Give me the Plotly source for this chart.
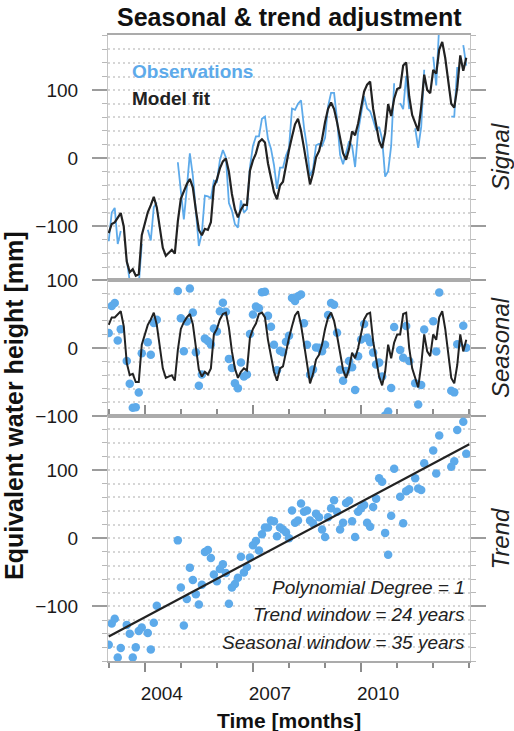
import numpy as np
import plotly.graph_objects as go

# Monthly time axis, January 2003 onwards
months = np.arange(120)
years = 2003 + months / 12.0

# Seasonal component fitted by the model (mm)
seasonal_fit = [
    34, 45, 45, 49, 54, 32, -22, -40, -38, -50, -50, 5,
    20, 34, 42, 52, 34, 0, -30, -44, -42, -40, -48, -3,
    28, 38, 45, 50, 35, 0, -32, -42, -35, -39, -30, 20,
    28, 42, 50, 52, 30, -5, -30, -44, -35, -30, -33, 15,
    28, 36, 50, 52, 45, 12, -12, -35, -48, -30, -27, -5,
    15, 32, 48, 54, 34, 6, -25, -52, -38, -17, -10, 5,
    28, 45, 52, 40, 18, -8, -32, -44, -30, -7, -15, 0,
    22, 42, 50, 52, 10, -17, -42, -55, -35, 5, -15, 8,
    20, 20, 50, 52, 0, -30, -44, -58, -25, 20, -5, -12,
    20, 12, 45, 54, 28, -10, -44, -52, -25, 20, -5, 12,
]

# Deseasonalised observations (mm); None marks months without data
deseasonalized = [
    -156, -125, -118, -175, -161, None, -127, -140, -175, -160, -136, -131,
    None, -139, -163, -124, -99, None, None, None, None, None, None, -3,
    -72, -128, -89, -43, -61, -82, -97, -68, -20, -17, -29, -53,
    -63, -45, -38, -51, -96, -72, -67, -58, -27, -50, -42, -28,
    -10, -4, -18, 6, 16, 16, 26, 25, 3, 16, 13, 9,
    0, 41, 23, 26, 51, 39, 41, 26, 22, 36, 31, 13,
    2, 31, 44, 56, 39, 13, 23, 52, 55, 25, 2, 39,
    44, 49, 23, 17, 46, 58, 88, 83, 8, -24, 33, 102,
    None, 61, 22, 69, 72, None, 88, 73, 71, 110, None, None,
    129, 95, 151, None, None, None, 105, 113, 159, None, 171, 124,
]

# Linear trend (polynomial degree 1), value at the start and end of the record
trend_years = [2003.0, 2013.0]
trend_values = [-144.0, 138.0]

trend_at = np.interp(years, trend_years, trend_values)
seas = np.array(seasonal_fit, dtype=float)
des = np.array([np.nan if v is None else v for v in deseasonalized], dtype=float)
observations = des + seas
model_fit = trend_at + seas
detrended = observations - trend_at


def nan_to_none(a):
    return [None if np.isnan(v) else float(v) for v in a]


BLUE = "#5daaea"
BLACK = "#222222"
FONT = "Liberation Sans, Arial, Helvetica, sans-serif"
GRID = "#d6d6d6"
TICK = "#9c9c9c"

fig = go.Figure()

# Signal panel
fig.add_trace(go.Scatter(x=years, y=nan_to_none(observations), mode="lines",
                         line=dict(color=BLUE, width=1.8), connectgaps=False,
                         xaxis="x", yaxis="y", showlegend=False))
fig.add_trace(go.Scatter(x=years, y=model_fit, mode="lines",
                         line=dict(color=BLACK, width=2.2),
                         xaxis="x", yaxis="y", showlegend=False))

# Seasonal panel
fig.add_trace(go.Scatter(x=years, y=nan_to_none(detrended), mode="markers",
                         marker=dict(color=BLUE, size=8.5),
                         xaxis="x2", yaxis="y2", showlegend=False))
fig.add_trace(go.Scatter(x=years, y=seas, mode="lines",
                         line=dict(color=BLACK, width=2),
                         xaxis="x2", yaxis="y2", showlegend=False))

# Trend panel
fig.add_trace(go.Scatter(x=years, y=nan_to_none(des), mode="markers",
                         marker=dict(color=BLUE, size=8.5),
                         xaxis="x3", yaxis="y3", showlegend=False))
fig.add_trace(go.Scatter(x=trend_years, y=trend_values, mode="lines",
                         line=dict(color=BLACK, width=2.2),
                         xaxis="x3", yaxis="y3", showlegend=False))

h1, h2, h3 = 245, 136, 245
tot = h1 + h2 + h3
d3 = [0, h3 / tot]
d2 = [h3 / tot, (h3 + h2) / tot]
d1 = [(h3 + h2) / tot, 1]


def yaxis(domain, rng):
    return dict(
        domain=domain, range=rng, tickvals=[-100, 0, 100],
        ticks="outside", ticklen=15, tickwidth=2, tickcolor=TICK,
        ticklabelstandoff=10,
        tickfont=dict(family=FONT, size=19, color="#1a1a1a"),
        showline=True, linecolor="#c4c4c4", linewidth=1.2, mirror="ticks",
        showgrid=True, gridcolor=GRID, griddash="2px,3px", gridwidth=1.5,
        zeroline=False,
        minor=dict(tick0=0, dtick=20, ticks="outside", ticklen=5,
                   tickwidth=1.2, tickcolor="#b8b8b8",
                   showgrid=True, gridcolor=GRID, griddash="2px,3px", gridwidth=1.5),
    )


xrange = [2002.98, 2013.02]
xbase = dict(range=xrange, showgrid=False, zeroline=False,
             showline=True, linecolor="#ababab", linewidth=2, mirror=True)

fig.update_layout(
    width=514, height=731,
    margin=dict(l=108, r=44, t=35, b=70),
    paper_bgcolor="white", plot_bgcolor="white",
    xaxis=dict(xbase, anchor="y", showticklabels=False, ticks=""),
    xaxis2=dict(xbase, anchor="y2", matches="x", showticklabels=False, ticks=""),
    xaxis3=dict(xbase, anchor="y3", matches="x", mirror="ticks",
                tickvals=[2004, 2007, 2010], ticktext=["2004", "2007", "2010"],
                ticks="outside", ticklen=9, tickwidth=1.5, tickcolor="#8c8c8c",
                ticklabelshift=17, ticklabelstandoff=5,
                tickfont=dict(family=FONT, size=19, color="#1a1a1a"),
                minor=dict(tick0=2003, dtick=1, ticks="outside", ticklen=5,
                           tickwidth=1.5, tickcolor="#8c8c8c")),
    yaxis=yaxis(d1, [-179, 181]),
    yaxis2=yaxis(d2, [-100, 100]),
    yaxis3=yaxis(d3, [-180, 179.5]),
)

ann = []
ann.append(dict(text="<b>Seasonal & trend adjustment</b>", xref="paper", yref="paper",
                x=0.5, y=1, yshift=18, xanchor="center", yanchor="middle",
                showarrow=False, font=dict(family=FONT, size=25, color="#111")))
ann.append(dict(text="<b>Time [months]</b>", xref="paper", yref="paper",
                x=0.5, y=0, yshift=-59, xanchor="center", yanchor="middle",
                showarrow=False, font=dict(family=FONT, size=21, color="#111")))
ann.append(dict(text="<b>Equivalent water height [mm]</b>", xref="paper", yref="paper",
                x=0, y=0.5, xshift=-94, yshift=-58, textangle=-90,
                xanchor="center", yanchor="middle",
                showarrow=False, font=dict(family=FONT, size=25, color="#111")))
ann.append(dict(text="<b>Observations</b>", xref="paper", yref="paper",
                x=0, y=1, xshift=22, yshift=-36, xanchor="left", yanchor="middle",
                showarrow=False, font=dict(family=FONT, size=19, color=BLUE)))
ann.append(dict(text="<b>Model fit</b>", xref="paper", yref="paper",
                x=0, y=1, xshift=22, yshift=-63, xanchor="left", yanchor="middle",
                showarrow=False, font=dict(family=FONT, size=19, color=BLACK)))
for label, dom in (("Signal", d1), ("Seasonal", d2), ("Trend", d3)):
    ann.append(dict(text="<i>" + label + "</i>", xref="paper", yref="paper",
                    x=1, y=(dom[0] + dom[1]) / 2, xshift=30, textangle=-90,
                    xanchor="center", yanchor="middle", showarrow=False,
                    font=dict(family=FONT, size=24, color="#222")))
notes = ["Polynomial Degree = 1", "Trend window = 24 years", "Seasonal window = 35 years"]
for i, t in enumerate(notes):
    ann.append(dict(text="<i>" + t + "</i>", xref="paper", yref="paper",
                    x=1, y=0, xshift=-3, yshift=74 - 27.5 * i,
                    xanchor="right", yanchor="middle", showarrow=False,
                    font=dict(family=FONT, size=19, color="#222")))
fig.update_layout(annotations=ann)

fig.write_html("out.html")
